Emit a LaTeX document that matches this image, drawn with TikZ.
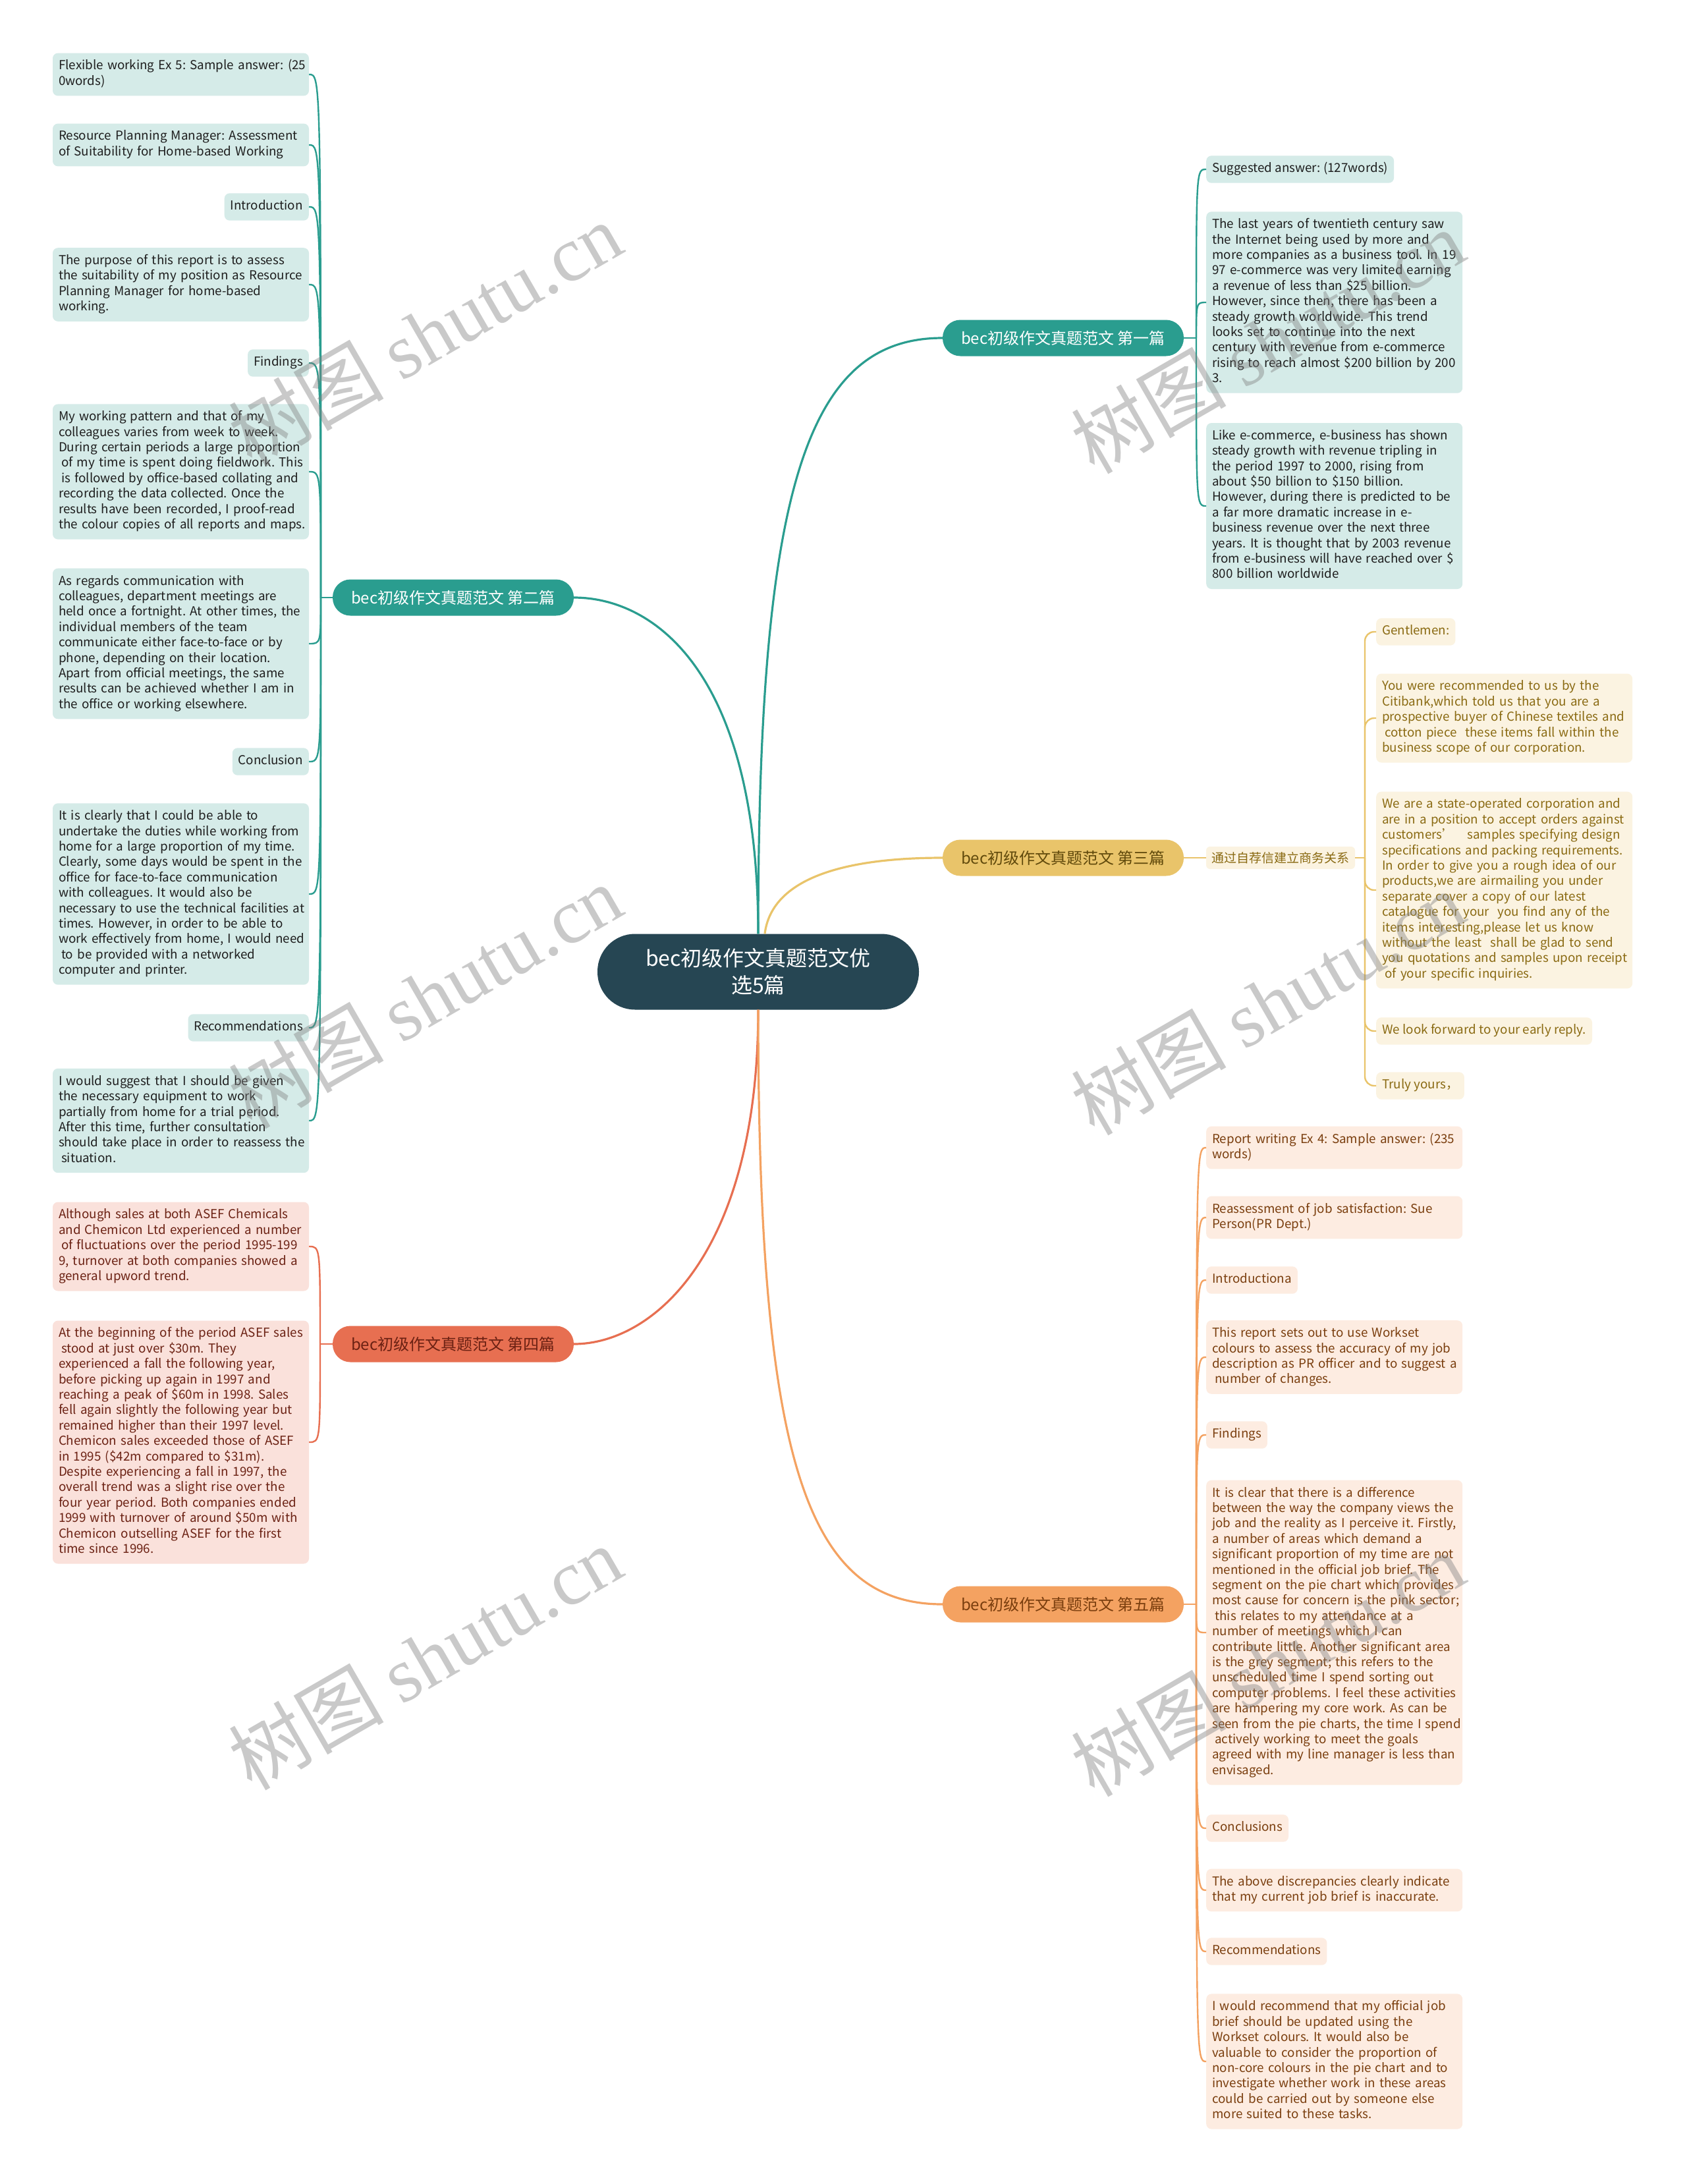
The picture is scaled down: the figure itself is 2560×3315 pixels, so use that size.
\documentclass[tikz,border=0pt]{standalone}
\usepackage{fontspec}
\setmainfont{Noto Sans CJK SC}
\newfontfamily\wmserif{Liberation Serif}
\usetikzlibrary{calc}
\definecolor{cdark}{HTML}{264653}
\definecolor{cteal}{HTML}{2A9D8F}
\definecolor{ctealL}{HTML}{D5EBE8}
\definecolor{ctealT}{HTML}{1E1E1E}
\definecolor{cgold}{HTML}{E9C46A}
\definecolor{cgoldL}{HTML}{FBF3E1}
\definecolor{cgoldT}{HTML}{8A6A12}
\definecolor{cred}{HTML}{E76F51}
\definecolor{credL}{HTML}{FAE1DB}
\definecolor{credT}{HTML}{6B2113}
\definecolor{corange}{HTML}{F4A261}
\definecolor{corangeL}{HTML}{FDECE1}
\definecolor{corangeT}{HTML}{7A3E0E}
\newcommand\lsp{\hspace*{0.22em}}
\begin{document}
\begin{tikzpicture}[x=1pt,y=-1pt,
  leafbase/.style={rounded corners=8pt, inner xsep=9pt, inner ysep=9pt, align=left,
    font=\fontsize{18.8}{23.4}\selectfont, execute at begin node={\frenchspacing\strut}, execute at end node=\strut},
  wide/.style={leafbase, text width=371pt,
    execute at begin node={\frenchspacing\rightskip=0pt plus 1fil minus 400pt\relax\strut}},
  tealleaf/.style={fill=ctealL, text=ctealT},
  goldleaf/.style={fill=cgoldL, text=cgoldT},
  redleaf/.style={fill=credL, text=credT},
  orangeleaf/.style={fill=corangeL, text=corangeT},
  branch/.style={minimum width=366pt, minimum height=55pt, rounded corners=27pt, inner sep=0pt,
    font=\fontsize{24}{28}\selectfont},
  root/.style={minimum width=488pt, minimum height=115pt, rounded corners=57pt, fill=cdark, text=white,
    align=center, font=\fontsize{32}{41}\selectfont},
  main/.style={line width=3.2pt},
  sub/.style={line width=2.4pt},
  wm/.style={rotate=30, text=gray, opacity=0.42, font=\fontsize{118}{120}\selectfont}
]
\useasboundingbox (0,0) rectangle (2560,3315);
\fill[white] (0,0) rectangle (2560,3315);

% root and branches
\node[root] (c) at (1151,1475) {bec初级作文真题范文优\\选5篇};
\node[branch, fill=cteal, text=white] (b1) at (1614,513) {bec初级作文真题范文 第一篇};
\node[branch, fill=cteal, text=white] (b2) at (688,907) {bec初级作文真题范文 第二篇};
\node[branch, fill=cgold, text=cgoldT!70!black] (b3) at (1614,1302) {bec初级作文真题范文 第三篇};
\node[branch, fill=cred, text=credT] (b4) at (688,2040) {bec初级作文真题范文 第四篇};
\node[branch, fill=corange, text=corangeT] (b5) at (1614,2435) {bec初级作文真题范文 第五篇};
\node[fill=cgoldL, text=cgoldT, rounded corners=6pt, minimum width=226pt, minimum height=34pt, inner sep=0pt,
  font=\fontsize{19}{22}\selectfont] (lab) at (1944,1302) {通过自荐信建立商务关系};

\draw[main, cteal] (c.north) .. controls +(0,-680) and +(-205,0) .. (b1.west);
\draw[main, cteal] (c.north) .. controls +(0,-400) and +(120,0) .. (b2.east);
\draw[main, cgold] ([xshift=10pt]c.north) .. controls +(10,-80) and +(-160,0) .. (b3.west);
\draw[main, cred] (c.south) .. controls +(0,370) and +(120,0) .. (b4.east);
\draw[main, corange] (c.south) .. controls +(0,690) and +(-205,0) .. (b5.west);

% ---------- branch 2 (left, teal)
\node[wide, tealleaf] (l1) at (274.5,113) {Flexible working Ex 5: Sample answer: (25\\0words)};
\node[wide, tealleaf] (l2) at (274.5,220) {Resource Planning Manager: Assessment\\of Suitability for Home-based Working};
\node[leafbase, tealleaf, anchor=east] (l3) at (469,314) {Introduction};
\node[wide, tealleaf] (l4) at (274.5,432) {The purpose of this report is to assess\\the suitability of my position as Resource\\Planning Manager for home-based\\working.};
\node[leafbase, tealleaf, anchor=east] (l5) at (469,551) {Findings};
\node[wide, tealleaf] (l6) at (274.5,716) {My working pattern and that of my\\colleagues varies from week to week.\\During certain periods a large proportion\\\lsp of my time is spent doing fieldwork. This\\\lsp is followed by office-based collating and\\recording the data collected. Once the\\results have been recorded, I proof-read\\the colour copies of all reports and maps.};
\node[wide, tealleaf] (l7) at (274.5,977) {As regards communication with\\colleagues, department meetings are\\held once a fortnight. At other times, the\\individual members of the team\\communicate either face-to-face or by\\phone, depending on their location.\\Apart from official meetings, the same\\results can be achieved whether I am in\\the office or working elsewhere.};
\node[leafbase, tealleaf, anchor=east] (l8) at (469,1156) {Conclusion};
\node[wide, tealleaf] (l9) at (274.5,1357) {It is clearly that I could be able to\\undertake the duties while working from\\home for a large proportion of my time.\\Clearly, some days would be spent in the\\office for face-to-face communication\\with colleagues. It would also be\\necessary to use the technical facilities at\\times. However, in order to be able to\\work effectively from home, I would need\\\lsp to be provided with a networked\\computer and printer.};
\node[leafbase, tealleaf, anchor=east] (l10) at (469,1560) {Recommendations};
\node[wide, tealleaf] (l11) at (274.5,1701) {I would suggest that I should be given\\the necessary equipment to work\\partially from home for a trial period.\\After this time, further consultation\\should take place in order to reassess the\\\lsp situation.};

\coordinate (s2) at (487,907);
\draw[sub, cteal] (b2.west) -- (s2);
\foreach \n in {l1,l2,l3,l4,l5,l6,l7,l8,l9,l10,l11}
  \draw[sub, cteal] (s2) .. controls (s2 |- \n.east) and (s2 |- \n.east) .. (\n.east);

% ---------- branch 4 (left, red)
\node[wide, redleaf] (d1) at (274.5,1892) {Although sales at both ASEF Chemicals\\and Chemicon Ltd experienced a number\\\lsp of fluctuations over the period 1995-199\\9, turnover at both companies showed a\\general upword trend.};
\node[wide, redleaf] (d2) at (274.5,2189) {At the beginning of the period ASEF sales\\\lsp stood at just over \$30m. They\\experienced a fall the following year,\\before picking up again in 1997 and\\reaching a peak of \$60m in 1998. Sales\\fell again slightly the following year but\\remained higher than their 1997 level.\\Chemicon sales exceeded those of ASEF\\in 1995 (\$42m compared to \$31m).\\Despite experiencing a fall in 1997, the\\overall trend was a slight rise over the\\four year period. Both companies ended\\1999 with turnover of around \$50m with\\Chemicon outselling ASEF for the first\\time since 1996.};
\coordinate (s4) at (486,2040);
\draw[sub, cred] (b4.west) -- (s4);
\foreach \n in {d1,d2}
  \draw[sub, cred] (s4) .. controls (s4 |- \n.east) and (s4 |- \n.east) .. (\n.east);

% ---------- branch 1 (right, teal)
\node[leafbase, tealleaf, anchor=west] (r1) at (1831,257) {Suggested answer: (127words)};
\node[wide, tealleaf, anchor=west] (r2) at (1831,459) {The last years of twentieth century saw\\the Internet being used by more and\\more companies as a business tool. In 19\\97 e-commerce was very limited earning\\a revenue of less than \$25 billion.\\However, since then, there has been a\\steady growth worldwide. This trend\\looks set to continue into the next\\century with revenue from e-commerce\\rising to reach almost \$200 billion by 200\\3.};
\node[wide, tealleaf, anchor=west] (r3) at (1831,768) {Like e-commerce, e-business has shown\\steady growth with revenue tripling in\\the period 1997 to 2000, rising from\\about \$50 billion to \$150 billion.\\However, during there is predicted to be\\a far more dramatic increase in e-\\business revenue over the next three\\years. It is thought that by 2003 revenue\\from e-business will have reached over \$\\800 billion worldwide};
\coordinate (s1) at (1816,513);
\draw[sub, cteal] (b1.east) -- (s1);
\foreach \n in {r1,r2,r3}
  \draw[sub, cteal] (s1) .. controls (s1 |- \n.west) and (s1 |- \n.west) .. (\n.west);

% ---------- branch 3 (right, gold)
\node[leafbase, goldleaf, anchor=west] (y1) at (2089,959) {Gentlemen:};
\node[wide, goldleaf, anchor=west] (y2) at (2089,1090) {You were recommended to us by the\\Citibank,which told us that you are a\\prospective buyer of Chinese textiles and\\\lsp cotton piece\ \ these items fall within the\\business scope of our corporation.};
\node[wide, goldleaf, anchor=west] (y3) at (2089,1351) {We are a state-operated corporation and\\are in a position to accept orders against\\customers’\quad samples specifying design\\specifications and packing requirements.\\In order to give you a rough idea of our\\products,we are airmailing you under\\separate cover a copy of our latest\\catalogue for your\ \ you find any of the\\items interesting,please let us know\\without the least\ \ shall be glad to send\\you quotations and samples upon receipt\\\lsp of your specific inquiries.};
\node[leafbase, goldleaf, anchor=west] (y4) at (2089,1565) {We look forward to your early reply.};
\node[leafbase, goldleaf, anchor=west] (y5) at (2089,1648) {Truly yours，};
\coordinate (s3) at (2072,1302);
\draw[sub, cgold] (b3.east) -- (lab.west);
\draw[sub, cgold] (lab.east) -- (s3);
\foreach \n in {y1,y2,y3,y4,y5}
  \draw[sub, cgold, rounded corners=14pt] (s3) |- (\n.west);

% ---------- branch 5 (right, orange)
\node[wide, orangeleaf, anchor=west] (o1) at (1831,1742) {Report writing Ex 4: Sample answer: (235\\words)};
\node[wide, orangeleaf, anchor=west] (o2) at (1831,1848) {Reassessment of job satisfaction: Sue\\Person(PR Dept.)};
\node[leafbase, orangeleaf, anchor=west] (o3) at (1831,1943) {Introductiona};
\node[wide, orangeleaf, anchor=west] (o4) at (1831,2060) {This report sets out to use Workset\\colours to assess the accuracy of my job\\description as PR officer and to suggest a\\\lsp number of changes.};
\node[leafbase, orangeleaf, anchor=west] (o5) at (1831,2178) {Findings};
\node[wide, orangeleaf, anchor=west] (o6) at (1831,2478) {It is clear that there is a difference\\between the way the company views the\\job and the reality as I perceive it. Firstly,\\a number of areas which demand a\\significant proportion of my time are not\\mentioned in the official job brief. The\\segment on the pie chart which provides\\most cause for concern is the pink sector;\\\lsp this relates to my attendance at a\\number of meetings which I can\\contribute little. Another significant area\\is the grey segment; this refers to the\\unscheduled time I spend sorting out\\computer problems. I feel these activities\\are hampering my core work. As can be\\seen from the pie charts, the time I spend\\\lsp actively working to meet the goals\\agreed with my line manager is less than\\envisaged.};
\node[leafbase, orangeleaf, anchor=west] (o7) at (1831,2775) {Conclusions};
\node[wide, orangeleaf, anchor=west] (o8) at (1831,2869) {The above discrepancies clearly indicate\\that my current job brief is inaccurate.};
\node[leafbase, orangeleaf, anchor=west] (o9) at (1831,2962) {Recommendations};
\node[wide, orangeleaf, anchor=west] (o10) at (1831,3129) {I would recommend that my official job\\brief should be updated using the\\Workset colours. It would also be\\valuable to consider the proportion of\\non-core colours in the pie chart and to\\investigate whether work in these areas\\could be carried out by someone else\\more suited to these tasks.};
\coordinate (s5) at (1816,2435);
\draw[sub, corange] (b5.east) -- (s5);
\foreach \n in {o1,o2,o3,o4,o5,o6,o7,o8,o9,o10}
  \draw[sub, corange] (s5) .. controls (s5 |- \n.west) and (s5 |- \n.west) .. (\n.west);

% ---------- watermarks
\node[wm] (wm1) at (645,507) {树图 {\wmserif shutu.cn}};
\node[wm] (wm2) at (645,1512) {树图 {\wmserif shutu.cn}};
\node[wm] (wm3) at (645,2516) {树图 {\wmserif shutu.cn}};
\node[wm] (wm4) at (1924,518) {树图 {\wmserif shutu.cn}};
\node[wm] (wm5) at (1924,1522) {树图 {\wmserif shutu.cn}};
\node[wm] (wm6) at (1924,2526) {树图 {\wmserif shutu.cn}};
\end{tikzpicture}
\end{document}
